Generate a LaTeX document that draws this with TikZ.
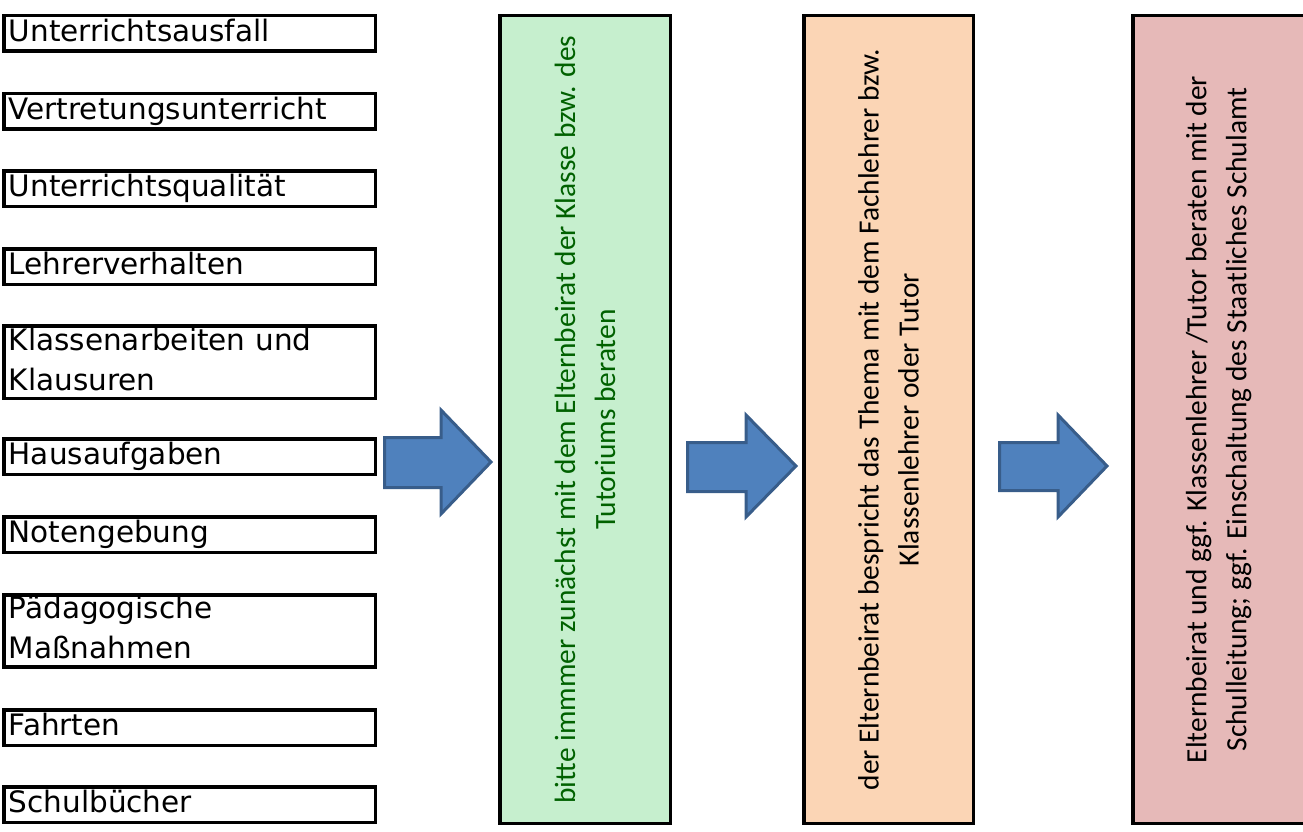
\documentclass[tikz,border=0pt]{standalone}
\usepackage{fontspec}
\setmainfont{DejaVu Sans}
\newfontfamily\calib{Carlito}
\definecolor{gfill}{HTML}{C6EFCE}
\definecolor{gtext}{HTML}{006100}
\definecolor{ofill}{HTML}{FBD5B5}
\definecolor{rfill}{HTML}{E6B9B8}
\definecolor{afill}{HTML}{4F81BD}
\definecolor{aline}{HTML}{385D8A}
\newcommand\lstr{\rule[-8pt]{0pt}{32pt}}
\begin{document}
\begin{tikzpicture}[x=1pt,y=-1pt,
  lbox/.style={draw=black, line width=3.5pt, fill=white, anchor=north west,
    minimum width=371.5pt, text width=361.5pt, inner xsep=5pt, inner ysep=0pt,
    align=left, font=\fontsize{29.5}{40}\selectfont},
  bigbox/.style={draw=black, line width=3.5pt, inner sep=0pt, anchor=north west, minimum height=807.5pt},
  vtext/.style={rotate=90, align=center, inner sep=0pt, font=\calib\fontsize{29.4}{40}\selectfont},
  blockarrow/.style={fill=afill, draw=aline, line width=3pt, line join=miter}]
\useasboundingbox (0,0) rectangle (1303,832);

% left boxes
\node[lbox, minimum height=35.5pt] (b1) at (2,14) {\lstr Unterrichtsausfall};
\node[lbox, minimum height=35.5pt] (b2) at (2,92) {\lstr Vertretungsunterricht};
\node[lbox, minimum height=35.5pt] (b3) at (2,169) {\lstr Unterrichtsqualität};
\node[lbox, minimum height=35.5pt] (b4) at (2,247) {\lstr Lehrerverhalten};
\node[lbox, minimum height=72.5pt] (b5) at (2,324) {\lstr Klassenarbeiten und\\\lstr Klausuren};
\node[lbox, minimum height=35.5pt] (b6) at (2,437) {\lstr Hausaufgaben};
\node[lbox, minimum height=35.5pt] (b7) at (2,515) {\lstr Notengebung};
\node[lbox, minimum height=72pt] (b8) at (2,593) {\lstr Pädagogische\\\lstr Maßnahmen};
\node[lbox, minimum height=35.5pt] (b9) at (2,708) {\lstr Fahrten};
\node[lbox, minimum height=35.5pt] (b10) at (2,785) {\lstr Schulbücher};

% big boxes
\node[bigbox, fill=gfill, minimum width=170.5pt] (g) at (498,14) {};
\node[bigbox, fill=ofill, minimum width=169.5pt] (o) at (802,14) {};
\node[bigbox, fill=rfill, minimum width=172pt] (r) at (1131,14) {};

\node[vtext, text=gtext] (gt) at (g.center) {bitte immmer zunächst mit dem Elternbeirat der Klasse bzw. des\\Tutoriums beraten};
\node[vtext, text=black] (ot) at (o.center) {der Elternbeirat bespricht das Thema mit dem Fachlehrer bzw.\\Klassenlehrer oder Tutor};
\node[vtext, text=black] (rt) at (r.center) {Elternbeirat und ggf. Klassenlehrer /Tutor beraten mit der\\Schulleitung; ggf. Einschaltung des Staatliches Schulamt};

% block arrows
\draw[blockarrow] (384.5,437.5) -- (441,437.5) -- (441,410) -- (491,462) -- (441,514) -- (441,487.5) -- (384.5,487.5) -- cycle;
\draw[blockarrow] (687.5,442.5) -- (746,442.5) -- (746,415) -- (796,466) -- (746,517) -- (746,491.5) -- (687.5,491.5) -- cycle;
\draw[blockarrow] (999.5,442.5) -- (1058,442.5) -- (1058,415) -- (1107,466) -- (1058,517) -- (1058,490.5) -- (999.5,490.5) -- cycle;
\end{tikzpicture}
\end{document}
